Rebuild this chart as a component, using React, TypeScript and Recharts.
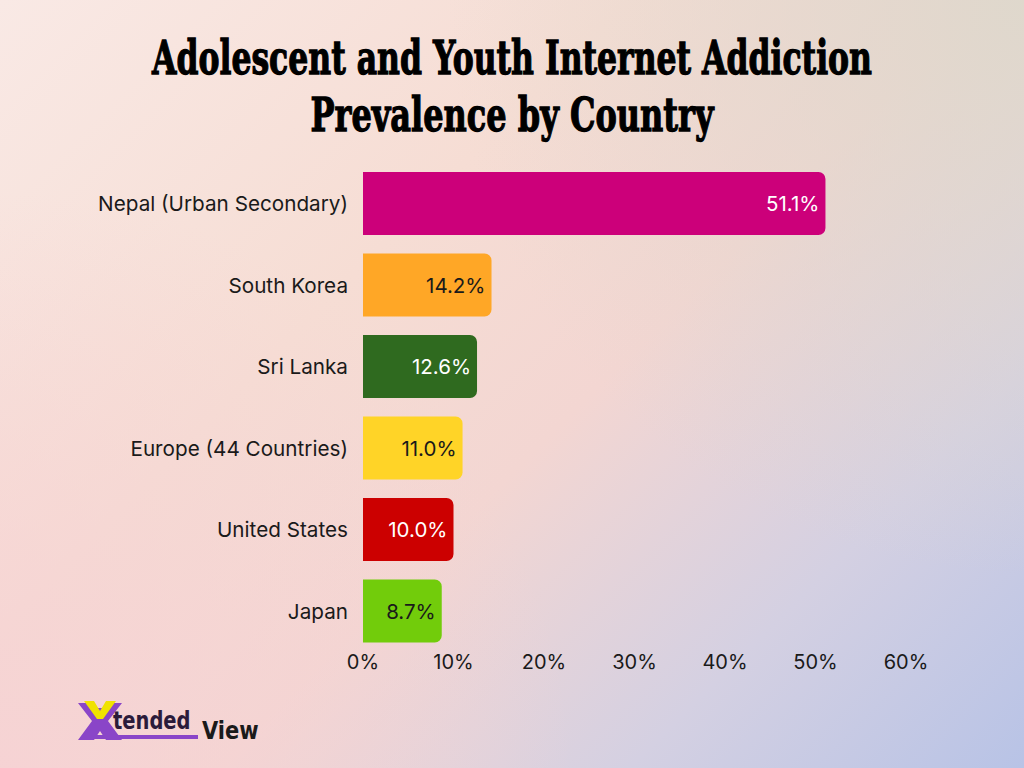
import { BarChart, Bar, XAxis, YAxis, Cell, LabelList } from "recharts";

const countries = [
  "Nepal (Urban Secondary)",
  "South Korea",
  "Sri Lanka",
  "Europe (44 Countries)",
  "United States",
  "Japan",
];
const prevalence = [51.1, 14.2, 12.6, 11.0, 10.0, 8.7];
const xTicks = [0, 10, 20, 30, 40, 50, 60];

const BAR_COLORS = ["#cc007a", "#ffa726", "#2f6a1f", "#ffd427", "#cc0000", "#72cc0b"];
const LABEL_COLORS = ["#ffffff", "#1a1a1a", "#ffffff", "#1a1a1a", "#ffffff", "#1a1a1a"];

const data = countries.map((name, i) => ({ name, value: prevalence[i] }));

const FONT = "Inter, 'Open Sans', sans-serif";
const TITLE_SCALE = 0.7;

function ValueLabel(props: any) {
  const { x, y, width, height, value, index } = props;
  return (
    <text
      x={x + width - 6}
      y={y + height / 2}
      textAnchor="end"
      dominantBaseline="central"
      fontFamily={FONT}
      fontSize={20.5}
      fill={LABEL_COLORS[index]}
    >
      {Number(value).toFixed(1)}%
    </text>
  );
}

function TitleLine({ text, y, width }: { text: string; y: number; width: number }) {
  return (
    <g transform={`translate(512,${y}) scale(${TITLE_SCALE},1)`}>
      <text
        x={0}
        y={0}
        textAnchor="middle"
        textLength={width / TITLE_SCALE}
        lengthAdjust="spacingAndGlyphs"
        fontFamily="'DejaVu Serif', serif"
        fontWeight={700}
        fontSize={47}
        fill="#000"
        stroke="#000"
        strokeWidth={1.3}
      >
        {text}
      </text>
    </g>
  );
}

function Logo() {
  return (
    <svg width={220} height={60} style={{ position: "absolute", left: 70, top: 695 }}>
      <polygon points="8,8 24,8 27,13 33,13 36,8 52,8 38,26 52,45 36,45 30,36 24,45 8,45 22,26" fill="#8a45c8" />
      <polygon points="14,6 24,6 30,16 36,6 46,6 33,24 27,24" fill="#f0e200" />
      <g transform="translate(43,34) scale(1,1.25)">
        <text x={0} y={0} fontFamily="'DejaVu Sans', sans-serif" fontWeight={700} fontSize={19.5} fill="#2b1b3a">
          tended
        </text>
      </g>
      <rect x={24} y={40} width={104} height={4} fill="#8a45c8" />
      <g transform="translate(132,44) scale(1,1.15)">
        <text x={0} y={0} fontFamily="'DejaVu Sans', sans-serif" fontWeight={700} fontSize={21} fill="#1a1a1a">
          View
        </text>
      </g>
    </svg>
  );
}

export default function App() {
  return (
    <div
      style={{
        position: "absolute",
        left: 0,
        top: 0,
        width: 1024,
        height: 768,
        overflow: "hidden",
        background:
          "radial-gradient(circle at 100% 0%, rgba(222,216,204,0.95) 0%, rgba(222,216,204,0) 45%), " +
          "radial-gradient(circle at 0% 100%, rgba(246,210,212,0.9) 0%, rgba(246,210,212,0) 45%), " +
          "linear-gradient(135deg, #f9e9e5 0%, #f6ddd4 35%, #f3d6d2 55%, #d4d0e2 78%, #b8c3e6 100%)",
      }}
    >
      <svg width={1024} height={150} style={{ position: "absolute", left: 0, top: 0 }}>
        <TitleLine text="Adolescent and Youth Internet Addiction" y={74} width={720} />
        <TitleLine text="Prevalence by Country" y={131} width={403} />
      </svg>
      <div style={{ position: "absolute", left: 0, top: 0 }}>
        <BarChart
          width={1024}
          height={768}
          data={data}
          layout="vertical"
          barSize={63}
          margin={{ top: 163, right: 118, bottom: 86, left: 0 }}
        >
          <XAxis
            type="number"
            domain={[0, 60]}
            ticks={xTicks}
            tickFormatter={(v) => `${v}%`}
            axisLine={false}
            tickLine={false}
            tickSize={0}
            tickMargin={3}
            height={30}
            tick={{ fontSize: 20, fill: "#1a1a1a", fontFamily: FONT }}
          />
          <YAxis
            type="category"
            dataKey="name"
            width={363}
            axisLine={false}
            tickLine={false}
            tickSize={0}
            tickMargin={15}
            tick={{ fontSize: 20.7, fill: "#1a1a1a", fontFamily: FONT }}
          />
          <Bar dataKey="value" radius={[0, 7, 7, 0]} isAnimationActive={false}>
            {data.map((d, i) => (
              <Cell key={d.name} fill={BAR_COLORS[i]} />
            ))}
            <LabelList dataKey="value" content={ValueLabel} />
          </Bar>
        </BarChart>
      </div>
      <Logo />
    </div>
  );
}
